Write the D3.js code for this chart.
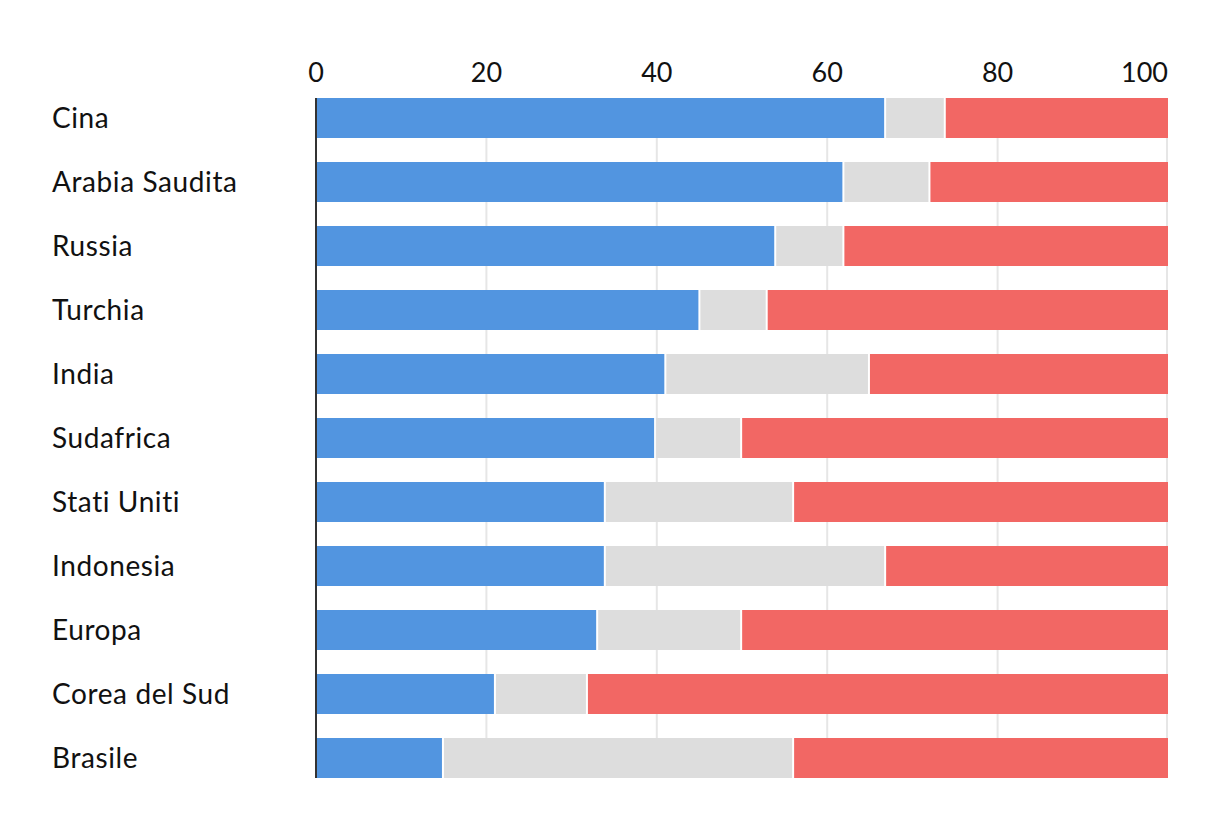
<!DOCTYPE html>
<html>
<head>
<meta charset="utf-8">
<script src="https://cdn.jsdelivr.net/npm/d3@7"></script>
<style>
  body { margin: 0; background: #fff; }
  text { font-family: Lato, "Noto Sans", sans-serif; fill: #111; font-variant-ligatures: none; }
</style>
</head>
<body>
<script>
const countries = ["Cina", "Arabia Saudita", "Russia", "Turchia", "India", "Sudafrica",
  "Stati Uniti", "Indonesia", "Europa", "Corea del Sud", "Brasile"];
// share of each group, percent (blue, grey, red)
const blueVals = [66.8, 61.9, 53.9, 45.0, 41.0, 39.8, 33.9, 33.9, 33.0, 21.0, 14.9];
const greyVals = [7.0, 10.1, 8.0, 7.9, 23.9, 10.1, 22.1, 32.9, 16.9, 10.8, 41.1];
const redVals = [26.2, 28.0, 38.1, 47.1, 35.1, 50.1, 44.0, 33.2, 50.1, 68.2, 44.0];
const ticks = [0, 20, 40, 60, 80, 100];
const colors = ["#5295e0", "#dddddd", "#f26764"];

const width = 1220;
const height = 828;

const x = d3.scaleLinear().domain([0, 100]).range([316, 1168]);
const y = d3.scaleBand().domain(countries).range([98, 778]).paddingInner(0.375).paddingOuter(0);

const svg = d3.select("body").append("svg")
  .attr("width", width)
  .attr("height", height);

// grid
svg.append("g")
  .selectAll("line")
  .data(ticks.slice(1))
  .join("line")
  .attr("x1", (d) => x(d) - (d === 100 ? 1 : 0))
  .attr("x2", (d) => x(d) - (d === 100 ? 1 : 0))
  .attr("y1", y.range()[0])
  .attr("y2", y.range()[1])
  .attr("stroke", "#e6e6e6")
  .attr("stroke-width", 2);

// tick labels on top
svg.append("g")
  .selectAll("text")
  .data(ticks)
  .join("text")
  .attr("x", (d) => x(d))
  .attr("y", 82)
  .attr("text-anchor", (d) => (d === 100 ? "end" : "middle"))
  .attr("font-size", 27)
  .text((d) => d);

// stacked segments
const rows = countries.map((c, i) => {
  const vals = [blueVals[i], greyVals[i], redVals[i]];
  let acc = 0;
  return vals.map((v, k) => {
    const seg = { country: c, k, start: acc, end: acc + v };
    acc += v;
    return seg;
  });
});

svg.append("g")
  .selectAll("g")
  .data(rows)
  .join("g")
  .selectAll("rect")
  .data((d) => d)
  .join("rect")
  .attr("x", (d) => x(d.start) + 1)
  .attr("width", (d) => Math.max(0, x(Math.min(d.end, 100)) - x(d.start) - (d.k < 2 ? 2 : 1)))
  .attr("y", (d) => y(d.country))
  .attr("height", y.bandwidth())
  .attr("fill", (d) => colors[d.k]);

// baseline
svg.append("line")
  .attr("x1", x(0))
  .attr("x2", x(0))
  .attr("y1", y.range()[0])
  .attr("y2", y.range()[1])
  .attr("stroke", "#333")
  .attr("stroke-width", 2);

// country labels
svg.append("g")
  .selectAll("text")
  .data(countries)
  .join("text")
  .attr("x", 52)
  .attr("y", (d) => y(d) + y.bandwidth() / 2)
  .attr("dy", "0.36em")
  .attr("font-size", 28)
  .attr("letter-spacing", 0.6)
  .text((d) => d);
</script>
</body>
</html>
